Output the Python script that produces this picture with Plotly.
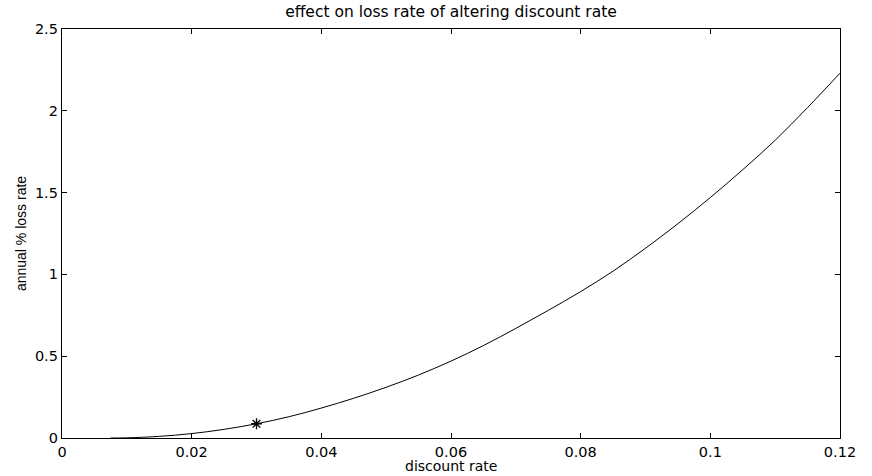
import plotly.graph_objects as go

# discount rate (x) and annual % loss rate (y)
discount_rate = [0.0075, 0.01, 0.015, 0.02, 0.025, 0.03, 0.035, 0.04, 0.045, 0.05,
                 0.055, 0.06, 0.065, 0.07, 0.075, 0.08, 0.085, 0.09, 0.095, 0.1,
                 0.105, 0.11, 0.115, 0.12]
loss_rate = [0.0, 0.001, 0.010, 0.027, 0.053, 0.087, 0.130, 0.183, 0.243, 0.310,
             0.385, 0.470, 0.565, 0.670, 0.780, 0.895, 1.020, 1.160, 1.310, 1.470,
             1.640, 1.820, 2.020, 2.230]

marker_x = [0.03]
marker_y = [0.087]

x_ticks = [0, 0.02, 0.04, 0.06, 0.08, 0.1, 0.12]
x_tick_labels = ["0", "0.02", "0.04", "0.06", "0.08", "0.1", "0.12"]
y_ticks = [0, 0.5, 1, 1.5, 2, 2.5]
y_tick_labels = ["0", "0.5", "1", "1.5", "2", "2.5"]

wide_font = "DejaVu Sans, Verdana, sans-serif"
narrow_font = "Liberation Sans, Arial, sans-serif"

fig = go.Figure()
fig.add_trace(go.Scatter(x=discount_rate, y=loss_rate, mode="lines",
                         line=dict(color="black", width=1, shape="spline", smoothing=1.0),
                         hoverinfo="skip", showlegend=False))
fig.add_trace(go.Scatter(x=marker_x, y=marker_y, mode="markers",
                         marker=dict(symbol="asterisk-open", size=9, color="black",
                                     line=dict(color="black", width=1.3)),
                         showlegend=False))

axis_common = dict(showline=True, linecolor="black", linewidth=1.3,
                   mirror="ticks", ticks="inside", ticklen=5, tickwidth=1,
                   tickcolor="black", showgrid=False, zeroline=False,
                   tickfont=dict(family=wide_font, size=14.5, color="black"))

fig.update_xaxes(range=[0, 0.12], tickvals=x_ticks, ticktext=x_tick_labels,
                 **axis_common)
fig.update_yaxes(range=[0, 2.5], tickvals=y_ticks, ticktext=y_tick_labels,
                 title=dict(text="annual % loss rate",
                            font=dict(family=narrow_font, size=14, color="black"),
                            standoff=4),
                 **axis_common)

fig.add_annotation(text="discount rate", xref="paper", yref="paper",
                   x=0.5, y=0, yshift=-28, xanchor="center", yanchor="middle",
                   showarrow=False,
                   font=dict(family=wide_font, size=14, color="black"))

fig.update_layout(
    width=872, height=476,
    margin=dict(l=62, r=32, t=29, b=38, autoexpand=False),
    paper_bgcolor="white", plot_bgcolor="white",
    title=dict(text="effect on loss rate of altering discount rate",
               font=dict(family=wide_font, size=15.5, color="black"),
               x=(62 + 840) / 2 / 872, xanchor="center",
               y=1 - 12 / 476, yanchor="middle", yref="container"),
)

fig.write_html("out.html")
